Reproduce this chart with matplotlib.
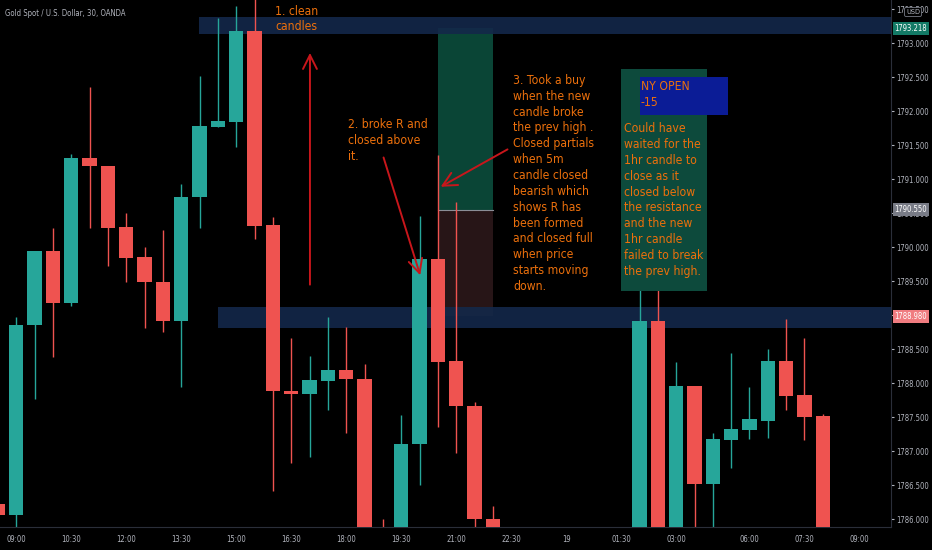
import matplotlib
matplotlib.use("Agg")
import matplotlib.pyplot as plt
from matplotlib import font_manager as fm
from matplotlib.patches import Rectangle
import numpy as np

# 30 min candles, bar index on x (09:00 of day 18 = 0)
bar_idx = [-1, 0, 1, 2, 3, 4, 5, 6, 7, 8, 9, 10, 11, 12, 13, 14, 15, 16, 17, 18, 19,
           20, 21, 22, 23, 24, 25, 26, 34, 35, 36, 37, 38, 39, 40, 41, 42, 43, 44]
opens = [1786.22, 1786.06, 1788.85, 1789.94, 1789.18, 1791.32, 1791.20, 1790.30, 1789.86,
         1789.49, 1788.92, 1790.74, 1791.77, 1791.85, 1793.18, 1790.33, 1787.89, 1787.84,
         1788.04, 1788.20, 1788.07, 1785.70, 1785.45, 1787.10, 1789.83, 1788.33, 1787.67,
         1786.00, 1785.80, 1788.91, 1785.70, 1787.96, 1786.52, 1787.17, 1787.31, 1787.45,
         1788.33, 1787.83, 1787.52]
highs = [1786.26, 1788.98, 1789.95, 1790.28, 1791.37, 1792.36, 1791.20, 1790.50, 1790.00,
         1790.25, 1790.93, 1792.52, 1793.37, 1793.55, 1793.80, 1790.44, 1788.66, 1788.40,
         1788.98, 1788.83, 1788.28, 1786.01, 1787.53, 1790.46, 1791.36, 1790.67, 1787.73,
         1786.20, 1789.70, 1789.60, 1788.32, 1787.96, 1787.27, 1788.45, 1787.94, 1788.50,
         1788.95, 1788.66, 1787.55]
lows = [1786.00, 1785.85, 1787.77, 1788.39, 1789.14, 1790.28, 1789.72, 1789.49, 1788.82,
        1788.75, 1787.95, 1790.29, 1791.77, 1791.48, 1790.12, 1786.42, 1786.83, 1786.92,
        1787.60, 1787.27, 1785.50, 1785.30, 1785.40, 1786.50, 1787.36, 1786.97, 1785.85,
        1785.60, 1785.60, 1785.50, 1785.60, 1785.70, 1785.80, 1786.76, 1787.18, 1787.20,
        1787.60, 1787.17, 1785.50]
closes = [1786.06, 1788.86, 1789.94, 1789.18, 1791.32, 1791.19, 1790.29, 1789.85, 1789.49,
          1788.92, 1790.74, 1791.78, 1791.86, 1793.18, 1790.32, 1787.88, 1787.84, 1788.05,
          1788.20, 1788.06, 1785.70, 1785.45, 1787.11, 1789.83, 1788.32, 1787.67, 1786.00,
          1785.70, 1788.91, 1785.70, 1787.96, 1786.52, 1787.18, 1787.33, 1787.47, 1788.33,
          1787.81, 1787.51, 1785.70]

time_ticks = [0, 3, 6, 9, 12, 15, 18, 21, 24, 27, 30, 33, 36, 40, 43, 46]
time_labels = ["09:00", "10:30", "12:00", "13:30", "15:00", "16:30", "18:00", "19:30",
               "21:00", "22:30", "19", "01:30", "03:00", "06:00", "07:30", "09:00"]
price_ticks = np.arange(1786.0, 1793.51, 0.5)

resist_top = (1793.137, 1793.387)
resist_low = (1788.818, 1789.127)
entry_price = 1790.550
target_price = 1793.229
stop_price = 1788.99
last_top = 1793.218
last_low = 1788.980

UP = "#26a69a"
DOWN = "#ef5350"
ORANGE = "#ec700c"
ARROW = "#c8161b"
GREY = "#b2b5be"


def pick_font():
    """Find a narrow font file, the chart uses a condensed face."""
    prefs = ["LiberationSansNarrow-Regular", "NotoSans-Condensed.", "NotoSans-SemiCondensed.",
             "DejaVuSansCondensed.", "RobotoCondensed-Regular", "Roboto-Regular", "Lato-Regular"]
    files = [f.fname for f in fm.fontManager.ttflist]
    for p in prefs:
        for fn in files:
            if p in fn.split("/")[-1]:
                return fn
    return None


fig = plt.figure(figsize=(9.32, 5.5), dpi=100, facecolor="black")
renderer = fig.canvas.get_renderer()
fname = pick_font()


def fp_for(text, target_px):
    """FontProperties sized so that `text` is about target_px wide."""
    fp = fm.FontProperties(fname=fname, size=10) if fname else fm.FontProperties(size=10)
    w, _, _ = renderer.get_text_width_height_descent(text, fp, False)
    fp.set_size(10 * target_px / w)
    return fp


note_fp = fp_for("Closed partials", 81)
_, lp_h, _ = renderer.get_text_width_height_descent("lp", note_fp, False)
note_ls = 16.7 / lp_h
tick_fp = fp_for("1793.000", 33)
time_fp = fp_for("09:00", 20)
title_fp = fp_for("Gold Spot / U.S. Dollar, 30, OANDA", 122)

ax = fig.add_axes([0, 23.3 / 550, 891 / 932, 526.7 / 550])
ax.set_facecolor("black")
ax.set_xlim(-0.89, 47.72)
ax.set_ylim(1785.891, 1793.637)

# zones
ax.add_patch(Rectangle((9.97, resist_top[0]), 40, resist_top[1] - resist_top[0],
                       facecolor="#13284a", edgecolor="none", alpha=0.9, zorder=1))
ax.add_patch(Rectangle((11.02, resist_low[0]), 40, resist_low[1] - resist_low[0],
                       facecolor="#13284a", edgecolor="none", alpha=0.9, zorder=1))
# long position box
ax.add_patch(Rectangle((23.0, entry_price), 3.0, target_price - entry_price,
                       facecolor="#0b4a3a", edgecolor="none", alpha=0.95, zorder=0.9))
ax.add_patch(Rectangle((23.0, stop_price), 3.0, entry_price - stop_price,
                       facecolor="#2a1719", edgecolor="none", alpha=0.95, zorder=0.9))
ax.plot([23.0, 26.0], [entry_price, entry_price], color="#8a8d96", lw=0.8, zorder=1.1)

# candles
o = np.array(opens)
c = np.array(closes)
cols = [UP if cc >= oo else DOWN for oo, cc in zip(o, c)]
ax.vlines(bar_idx, lows, highs, colors=cols, linewidth=1.0, zorder=2)
ax.bar(bar_idx, c - o, bottom=o, width=0.78, color=cols, linewidth=0, zorder=3)

# NY open note
ax.add_patch(Rectangle((32.99, 1789.357), 4.67, 1792.618 - 1789.357,
                       facecolor="#0d4a3c", edgecolor="none", zorder=4))
ax.add_patch(Rectangle((34.03, 1791.941), 4.78, 1792.509 - 1791.941,
                       facecolor="#0b1c96", edgecolor="none", zorder=5))

tkw = dict(color=ORANGE, fontproperties=note_fp, ha="left", va="top",
           linespacing=note_ls, zorder=6)
ax.text(14.11, 1793.57, "1. clean\ncandles", **tkw)
ax.text(18.11, 1791.90, "2. broke R and\nclosed above\nit.", **tkw)
ax.text(27.11, 1792.55,
        "3. Took a buy\nwhen the new\ncandle broke\nthe prev high .\nClosed partials\n"
        "when 5m\ncandle closed\nbearish which\nshows R has\nbeen formed\n"
        "and closed full\nwhen price\nstarts moving\ndown.", **tkw)
ax.text(34.08, 1792.46, "NY OPEN\n-15", **tkw)
ax.text(33.13, 1791.84,
        "Could have\nwaited for the\n1hr candle to\nclose as it\nclosed below\n"
        "the resistance\nand the new\n1hr candle\nfailed to break\nthe prev high.", **tkw)

akw = dict(arrowstyle="->,head_length=1.0,head_width=0.5", color=ARROW, lw=1.4)
ax.annotate("", xy=(16.02, 1792.90), xytext=(16.02, 1789.41), arrowprops=akw, zorder=6)
ax.annotate("", xy=(22.08, 1789.55), xytext=(19.99, 1791.36), arrowprops=akw, zorder=6)
ax.annotate("", xy=(23.02, 1790.87), xytext=(26.93, 1791.46), arrowprops=akw, zorder=6)

# axes styling
for s in ["top", "left"]:
    ax.spines[s].set_visible(False)
ax.spines["right"].set_color("#2a2e39")
ax.spines["bottom"].set_color("#2a2e39")
ax.yaxis.tick_right()
ax.set_yticks(price_ticks)
ax.set_yticklabels([f"{p:.3f}" for p in price_ticks], fontproperties=tick_fp)
ax.set_xticks(time_ticks)
ax.set_xticklabels(time_labels, fontproperties=time_fp)
ax.tick_params(axis="y", colors=GREY, length=2, pad=2)
ax.tick_params(axis="x", colors=GREY, length=0, pad=6)

ytr = ax.get_yaxis_transform()
for price, bg in [(last_top, "#137a66"), (entry_price, "#787b86"), (last_low, "#f07c80")]:
    ax.text(1.004, price, f"{price:.3f}", transform=ytr, ha="left", va="center",
            fontproperties=tick_fp, color="white", zorder=10, clip_on=False,
            bbox=dict(boxstyle="square,pad=0.25", facecolor=bg, edgecolor="none"))

fig.text(906 / 932, 1 - 12 / 550, "USD", fontproperties=fp_for("USD", 14), color=GREY,
         ha="left", va="center",
         bbox=dict(boxstyle="round,pad=0.2", facecolor="black", edgecolor="#787b86", lw=0.6))
fig.text(5 / 932, 1 - 14 / 550, "Gold Spot / U.S. Dollar, 30, OANDA", fontproperties=title_fp,
         color=GREY, ha="left", va="center")

fig.savefig("out.png", dpi=100, facecolor="black")
